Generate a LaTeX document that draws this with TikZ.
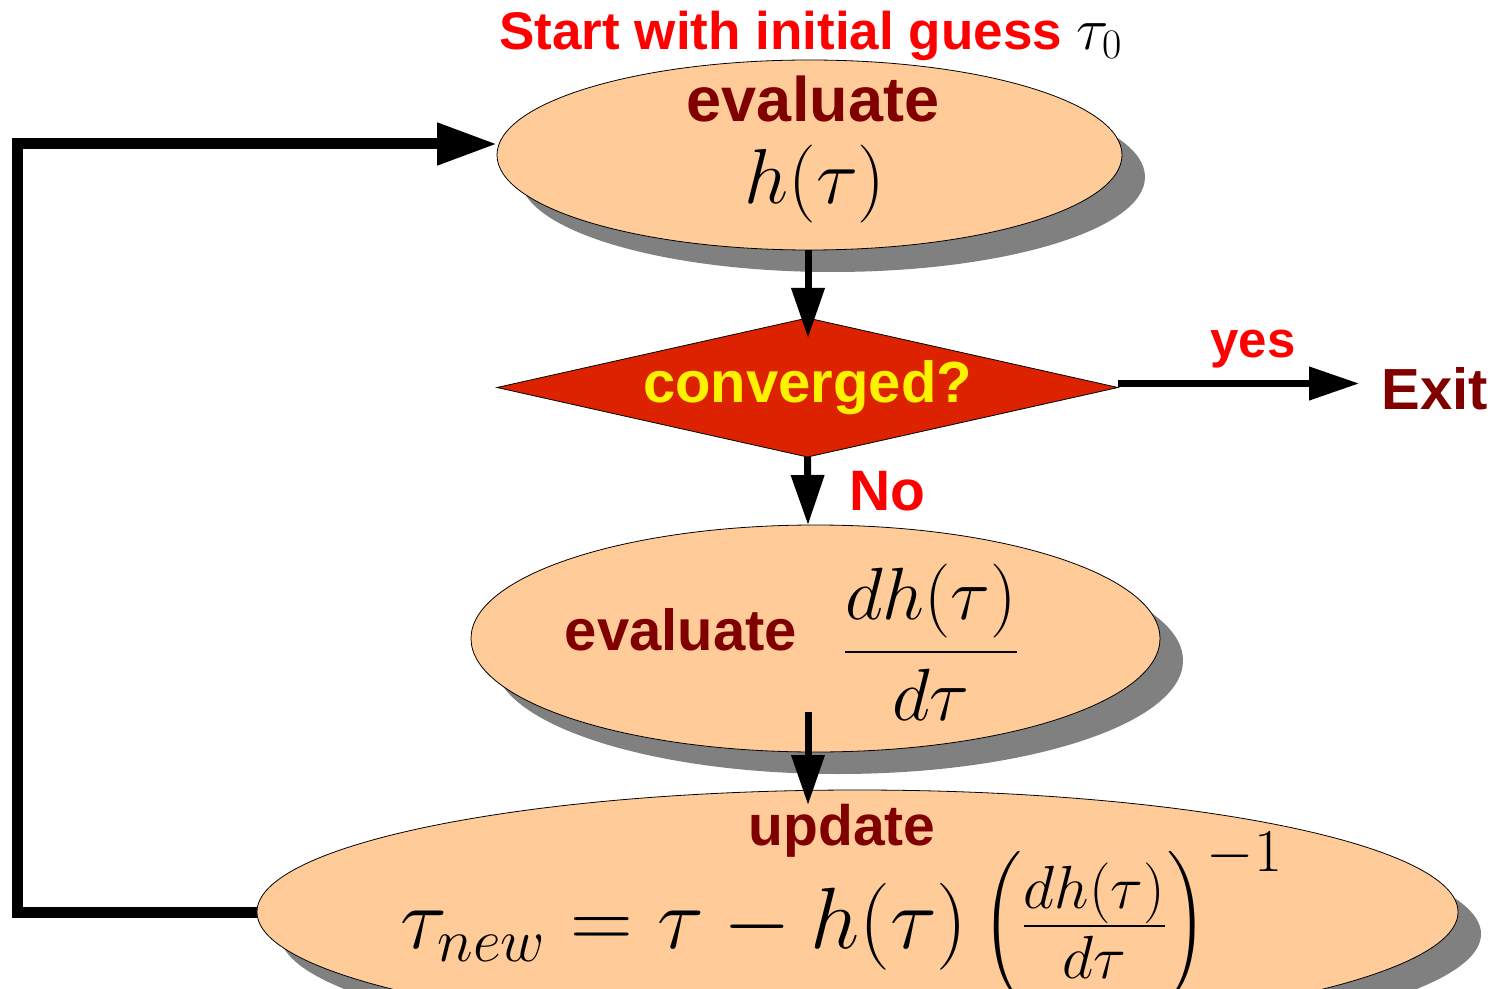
\RequirePackage{fix-cm}
\documentclass[tikz,border=0pt]{standalone}
\usepackage[no-math]{fontspec}
\setmainfont{Liberation Sans}
\usepackage{amsmath}
\usepackage{tikz}
\usetikzlibrary{arrows.meta,shapes,shadows,positioning}
\definecolor{peach}{HTML}{FFCC99}
\definecolor{convred}{HTML}{DD2200}
\definecolor{darkred}{HTML}{800000}
\newcommand{\fsz}[1]{\fontsize{#1}{#1}\selectfont}

\begin{document}
\begin{tikzpicture}
          [x=0.5pt,y=-0.5pt,semithick]
          \tikzstyle{blob}=[ellipse,fill=peach,draw=black,thin,inner sep=0pt,outer sep=0pt,
            drop shadow={shadow xshift=11.5pt,shadow yshift=-11pt,fill=black!50,opacity=1}]
          \tikzstyle{decision}=[diamond,shape aspect=4.47,fill=convred,draw=black,thin,inner sep=0pt,outer sep=0pt,text=yellow]
          \tikzstyle{flow}=[line width=3.5pt,-{Triangle[length=25pt,width=16pt]}]
          \tikzstyle{loopflow}=[line width=5.5pt,-{Triangle[length=30pt,width=20pt]}]
          \tikzstyle{darklbl}=[text=darkred,anchor=base,inner sep=0pt]
          \tikzstyle{redlbl}=[text=red,inner sep=0pt]

          \useasboundingbox (0,0) rectangle (1493,989);

          \node[blob,minimum width=312.5pt,minimum height=95pt] (eval) at (809.5,155) {};
          \node[decision,minimum width=310.5pt,minimum height=69.5pt,font=\bfseries\fsz{29}] (conv) at (807.5,387.5) {\raisebox{-2pt}{converged?}};
          \node[blob,minimum width=344.5pt,minimum height=113.5pt] (deriv) at (815.5,638.5) {};
          \node[blob,minimum width=600.5pt,minimum height=122pt] (upd) at (857.5,912) {};
          \node[text=darkred,font=\bfseries\fsz{29},inner sep=11pt] (exit) at (1435,389) {Exit};

          \node[redlbl,anchor=base,font=\bfseries\fsz{26.5}] (start) at (811,50) {Start with initial guess \textcolor{black}{\fsz{30}$\tau_0$}};
          \node[darklbl,font=\bfseries\fsz{31.5}] (evaltxt) at (813,122) {evaluate};
          \node[anchor=base,inner sep=0pt,font=\fsz{39}] (hfun) at (815,204) {$h(\tau)$};
          \node[darklbl,font=\bfseries\fsz{29}] (derivtxt) at (681,650) {evaluate};
          \node[anchor=base,inner sep=0pt,font=\fsz{37}] (dfrac) at (931,670) {$\displaystyle\frac{dh(\tau)}{d\tau}$};
          \node[darklbl,font=\bfseries\fsz{28.5}] (updtxt) at (842,845) {update};
          \node[anchor=base,inner sep=0pt,font=\fsz{43.5}] (formula) at (842,948) {$\tau_{new} = \tau - h(\tau)\,\Big(\frac{dh(\tau)}{d\tau}\Big)^{-1}$};

          \coordinate (axis) at (808,0);
          \coordinate (loopbot) at (17,912);
          \coordinate (looptop) at (17,144);

          \draw[flow,shorten >=-10pt] (axis |- eval.south) -- (axis |- conv.north);
          \draw[flow] (conv.south) -- (axis |- deriv.north)
            node[redlbl,midway,right=19pt,font=\bfseries\fsz{28.5}] (no) {No};
          \draw[flow,shorten <=-20pt,shorten >=-7.5pt] (axis |- deriv.south) -- (axis |- upd.north);
          \draw[flow] ([yshift=2pt]conv.east) -- ([yshift=2pt]conv.east -| exit.west)
            node[redlbl,pos=0.56,above=6pt,font=\bfseries\fsz{25.5}] (yes) {yes};
          \draw[loopflow] (upd.west) -- (loopbot) -- (looptop) -- (eval.west |- looptop);
        \end{tikzpicture}
\end{document}
